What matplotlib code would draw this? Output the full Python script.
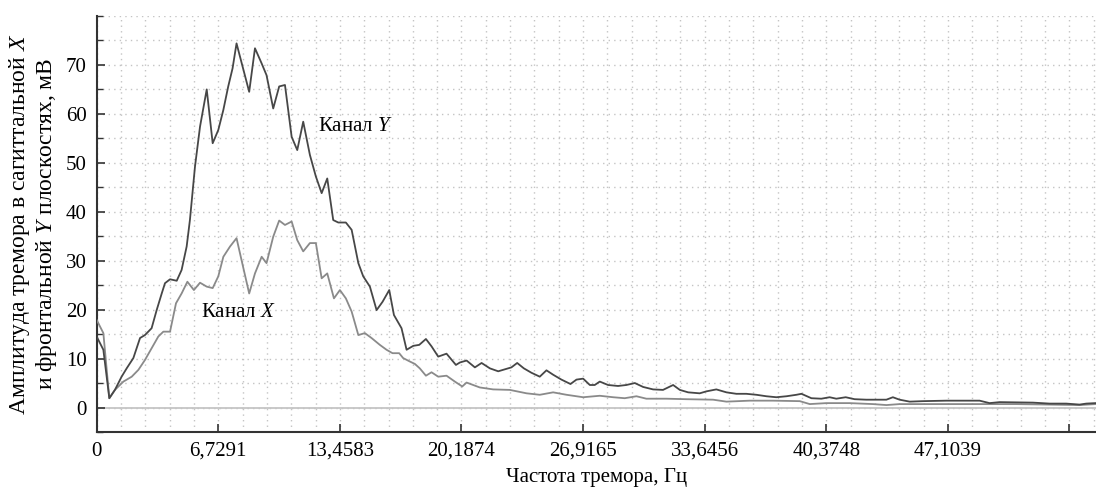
import numpy as np
import matplotlib
matplotlib.use('Agg')
import matplotlib.pyplot as plt
from matplotlib.ticker import MultipleLocator

plt.rcParams['font.family'] = ['Liberation Serif', 'DejaVu Serif']
plt.rcParams['mathtext.fontset'] = 'custom'
plt.rcParams['mathtext.rm'] = 'Liberation Serif'
plt.rcParams['mathtext.it'] = 'Liberation Serif:italic'

# Channel Y (sagittal/frontal)
freq_y = [0.00, 0.37, 0.70, 1.01, 1.38, 1.66, 2.03, 2.40, 2.67, 3.04, 3.32, 3.60, 3.78,
          4.06, 4.43, 4.70, 4.98, 5.16, 5.44, 5.72, 6.09, 6.42, 6.73, 7.01, 7.28, 7.52,
          7.74, 8.08, 8.44, 8.76, 9.13, 9.40, 9.77, 10.10, 10.42, 10.79, 11.10, 11.43,
          11.80, 12.13, 12.45, 12.76, 13.09, 13.37, 13.79, 14.11, 14.48, 14.75, 15.12,
          15.49, 15.82, 16.19, 16.45, 16.87, 17.15, 17.52, 17.85, 18.22, 18.53, 18.90,
          19.36, 19.88, 20.10, 20.47, 20.93, 21.30, 21.76, 22.22, 22.58, 22.95, 23.27,
          23.64, 24.06, 24.52, 24.89, 25.26, 25.72, 26.22, 26.55, 26.92, 27.29, 27.56,
          27.84, 28.30, 28.85, 29.31, 29.78, 30.24, 30.79, 31.34, 31.90, 32.27, 32.73,
          33.37, 33.74, 34.29, 34.85, 35.40, 35.95, 36.51, 37.06, 37.61, 38.17, 38.72,
          39.00, 39.55, 40.10, 40.56, 40.93, 41.45, 41.94, 42.59, 43.70, 44.06, 44.43,
          44.99, 45.72, 47.02, 48.31, 48.86, 49.41, 49.97, 51.81, 52.73, 53.65, 54.39,
          54.76, 55.28]
amp_y = [14.5, 11.8, 1.9, 3.6, 6.3, 8.0, 10.1, 14.2, 14.8, 16.2, 19.9, 23.3, 25.4,
         26.2, 25.9, 28.1, 32.9, 38.3, 49.2, 57.4, 65.0, 54.0, 56.7, 60.8, 65.6, 69.3,
         74.4, 69.6, 64.5, 73.4, 70.3, 67.9, 61.1, 65.6, 65.9, 55.3, 52.6, 58.4,
         51.6, 47.2, 43.8, 46.8, 38.3, 37.8, 37.8, 36.3, 29.5, 26.8, 24.7,
         19.9, 21.6, 24.0, 18.9, 16.2, 11.8, 12.6, 12.8, 14.0, 12.5, 10.4,
         11.0, 8.7, 9.2, 9.6, 8.2, 9.1, 8.0, 7.4, 7.8, 8.2, 9.1,
         8.0, 7.1, 6.3, 7.6, 6.7, 5.7, 4.8, 5.7, 5.9, 4.6, 4.6,
         5.3, 4.6, 4.4, 4.6, 5.0, 4.2, 3.7, 3.6, 4.6, 3.6, 3.1,
         2.9, 3.3, 3.7, 3.1, 2.8, 2.8, 2.6, 2.3, 2.1, 2.3, 2.6,
         2.8, 1.9, 1.8, 2.1, 1.8, 2.1, 1.7, 1.6, 1.6, 2.1, 1.6,
         1.2, 1.3, 1.4, 1.4, 1.4, 0.9, 1.1, 1.0, 0.8, 0.8, 0.6,
         0.8, 0.9]

# Channel X
freq_x = [0.00, 0.37, 0.70, 1.01, 1.48, 1.94, 2.31, 2.67, 3.04, 3.41, 3.69, 4.06, 4.39,
          4.70, 5.02, 5.38, 5.72, 6.09, 6.42, 6.73, 7.01, 7.38, 7.74, 8.08, 8.44, 8.76,
          9.13, 9.40, 9.77, 10.10, 10.42, 10.79, 11.10, 11.43, 11.80, 12.13, 12.45,
          12.76, 13.13, 13.46, 13.79, 14.11, 14.48, 14.84, 15.21, 15.67, 16.04, 16.37,
          16.74, 16.96, 17.33, 17.61, 17.88, 18.22, 18.53, 18.90, 19.36, 19.82, 20.23,
          20.47, 21.20, 21.94, 22.86, 23.79, 24.52, 25.26, 26.00, 26.92, 27.84, 28.58,
          29.22, 29.87, 30.42, 31.53, 32.63, 34.11, 34.85, 36.14, 37.43, 38.91, 39.46,
          40.38, 41.67, 42.96, 43.70, 44.43, 48.12, 50.89, 54.39, 55.28]
amp_x = [17.9, 15.2, 1.9, 3.6, 5.3, 6.3, 7.7, 9.7, 12.1, 14.5, 15.5, 15.5, 21.3,
         23.3, 25.7, 24.0, 25.5, 24.7, 24.4, 26.8, 30.8, 32.9, 34.6, 29.1, 23.3, 27.4,
         30.8, 29.5, 34.9, 38.2, 37.3, 38.0, 34.2, 31.9, 33.6, 33.6, 26.4,
         27.4, 22.3, 24.0, 22.3, 19.6, 14.8, 15.2, 14.2, 12.8, 11.8, 11.1,
         11.1, 10.1, 9.4, 8.9, 8.0, 6.5, 7.2, 6.3, 6.5, 5.3, 4.3,
         5.1, 4.1, 3.7, 3.6, 2.9, 2.6, 3.1, 2.6, 2.1, 2.4, 2.1,
         1.9, 2.3, 1.8, 1.8, 1.7, 1.6, 1.2, 1.4, 1.4, 1.3, 0.7,
         0.9, 0.9, 0.7, 0.5, 0.7, 0.7, 0.7, 0.5, 0.7]

x_ticks = [0, 6.7291, 13.4583, 20.1874, 26.9165, 33.6456, 40.3748, 47.1039, 53.8330]
x_labels = ['0', '6,7291', '13,4583', '20,1874', '26,9165', '33,6456', '40,3748', '47,1039', '']

fig = plt.figure(figsize=(10.96, 4.90), dpi=100)
ax = fig.add_axes([0.0882, 0.1184, 0.9118, 0.8490])

# grid (dotted, major + minor) and zero line
ax.set_xticks(x_ticks)
ax.set_xticklabels(x_labels)
ax.xaxis.set_minor_locator(MultipleLocator(x_ticks[1] / 5))
ax.yaxis.set_major_locator(MultipleLocator(10))
ax.yaxis.set_minor_locator(MultipleLocator(5))
ax.grid(True, which='both', color='#c4c4c4', linestyle=(0, (1, 3)), linewidth=1.0)
ax.axhline(0, color='#c0c0c0', linewidth=1.2, zorder=1)

ax.plot(freq_x, amp_x, color='#8a8a8a', linewidth=1.3, zorder=3)
ax.plot(freq_y, amp_y, color='#474747', linewidth=1.3, zorder=4)

ax.set_xlim(0, 55.3)
ax.set_ylim(-5, 80)
ax.set_yticks(range(0, 80, 10))

for s in ['top', 'right']:
    ax.spines[s].set_visible(False)
for s in ['left', 'bottom']:
    ax.spines[s].set_color('#333333')
    ax.spines[s].set_linewidth(1.5)

ax.tick_params(axis='both', which='major', direction='in', length=6, width=1.2,
               color='#333333', labelsize=15, pad=7)
ax.tick_params(axis='x', which='minor', length=0)
ax.tick_params(axis='y', which='minor', direction='in', length=4, width=1.0, color='#333333')

ax.text(12.24, 57.5, 'Канал $Y$', fontsize=15, ha='left', va='center')
ax.text(5.77, 19.5, 'Канал $X$', fontsize=15, ha='left', va='center')

ax.set_xlabel('Частота тремора, Гц', fontsize=15, labelpad=5)
ax.set_ylabel('Амплитуда тремора в сагиттальной $X$\nи фронтальной $Y$ плоскостях, мВ',
              fontsize=17, labelpad=5, linespacing=1.1)

fig.savefig('out.png', dpi=100)
